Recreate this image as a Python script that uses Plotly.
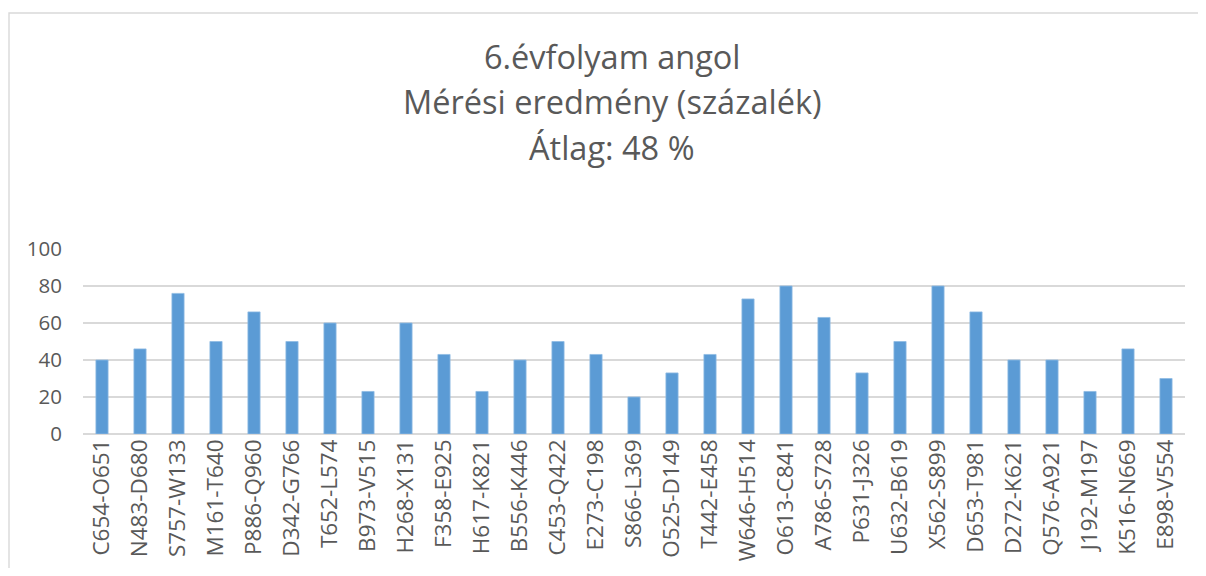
import plotly.graph_objects as go

categories = ["C654-O651", "N483-D680", "S757-W133", "M161-T640", "P886-Q960", "D342-G766",
              "T652-L574", "B973-V515", "H268-X131", "F358-E925", "H617-K821", "B556-K446",
              "C453-Q422", "E273-C198", "S866-L369", "O525-D149", "T442-E458", "W646-H514",
              "O613-C841", "A786-S728", "P631-J326", "U632-B619", "X562-S899", "D653-T981",
              "D272-K621", "Q576-A921", "J192-M197", "K516-N669", "E898-V554"]
values = [40, 46, 76, 50, 66, 50, 60, 23, 60, 43, 23, 40, 50, 43, 20, 33, 43, 73, 80, 63,
          33, 50, 80, 66, 40, 40, 23, 46, 30]
title_lines = ["6.évfolyam angol", "Mérési eredmény (százalék)", "Átlag: 48 %"]
y_ticks = [0, 20, 40, 60, 80, 100]

# page has an 8px body margin; figure sized to fit inside the window
OFF = 8
W, H = 1190, 560
L, R, T, B = 75, 13, 241, 134
ph = H - T - B
pw = W - L - R
plot_left_scr = L + OFF
plot_bottom_scr = H - B + OFF

def px_x(sx):
    return (sx - plot_left_scr) / pw

def px_y(sy):
    return (plot_bottom_scr - sy) / ph

fig = go.Figure(go.Bar(x=categories, y=values, marker=dict(color="#5b9bd5",
                                                           line=dict(color="#8fbbe3", width=0.8))))

font_family = "Open Sans, Liberation Sans, sans-serif"
title_px_y = [56, 101, 147]
for txt, py in zip(title_lines, title_px_y):
    fig.add_annotation(text=txt, xref="paper", yref="paper",
                       x=px_x(612), y=px_y(py),
                       xanchor="center", yanchor="middle", showarrow=False,
                       font=dict(family=font_family, size=32.5, color="#595959"))

fig.add_shape(type="rect", xref="paper", yref="paper",
              x0=px_x(9), x1=px_x(1240),
              y0=px_y(13), y1=px_y(700),
              line=dict(color="#d9d9d9", width=1.4), fillcolor="rgba(0,0,0,0)")

fig.update_layout(
    width=W, height=H,
    margin=dict(l=L, r=R, t=T, b=B, autoexpand=False),
    paper_bgcolor="white", plot_bgcolor="white",
    bargap=0.68, showlegend=False,
    font=dict(family=font_family, color="#595959"),
    xaxis=dict(tickangle=-90, tickfont=dict(size=22.5, color="#595959"),
               showgrid=False, showline=False, ticks="", automargin=False),
    yaxis=dict(range=[0, 100], tickvals=y_ticks, tickfont=dict(size=20.5, color="#595959"),
               showgrid=True, gridcolor="#d9d9d9", gridwidth=1.5,
               zeroline=True, zerolinecolor="#d9d9d9", zerolinewidth=1.5,
               showline=False, ticks="", ticklabelstandoff=20, automargin=False),
)

fig.write_html("out.html")
